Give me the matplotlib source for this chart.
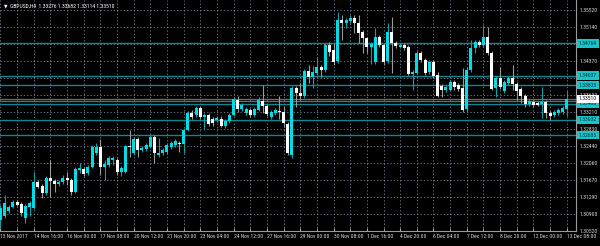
import matplotlib
matplotlib.use('Agg')
import matplotlib.pyplot as plt
from matplotlib import font_manager as fm
import numpy as np

# GBPUSD H4 candles, 13 Nov 2017 08:00 .. 13 Dec 2017 08:00
opens = [
    1.30779, 1.30869, 1.30982, 1.31073, 1.31186, 1.31141, 1.30824, 1.31073, 1.31050, 1.31637,
    1.31547, 1.31389, 1.31728, 1.31660, 1.31592, 1.31637, 1.31728, 1.31682, 1.31411, 1.31908,
    1.31931, 1.31840, 1.31976, 1.32292, 1.32427, 1.31976, 1.32021, 1.32134, 1.32134, 1.31863,
    1.31863, 1.32450, 1.32292, 1.32608, 1.32360, 1.32382, 1.32427, 1.32653, 1.32247, 1.32292,
    1.32315, 1.32427, 1.32473, 1.32518, 1.32495, 1.32811, 1.33195, 1.33150, 1.33308, 1.33104,
    1.33150, 1.33059, 1.33037, 1.33059, 1.32901, 1.33014, 1.33150, 1.33488, 1.33285, 1.33195,
    1.33263, 1.33150, 1.33263, 1.33466, 1.33353, 1.33104, 1.33195, 1.33240, 1.33217, 1.32946,
    1.32247, 1.33759, 1.33646, 1.33579, 1.34143, 1.34008, 1.34098, 1.34233, 1.34166, 1.34730,
    1.34617, 1.34369, 1.35294, 1.35227, 1.35272, 1.35339, 1.35227, 1.35023, 1.34888, 1.34685,
    1.34346, 1.34911, 1.34730, 1.34369, 1.35023, 1.34775, 1.34685, 1.34730, 1.34685, 1.34075,
    1.34098, 1.34549, 1.34391, 1.34120, 1.34346, 1.34053, 1.33804, 1.33714, 1.33714, 1.33895,
    1.33827, 1.33759, 1.33285, 1.34166, 1.34662, 1.34798, 1.34730, 1.34911, 1.34549, 1.33759,
    1.33985, 1.33692, 1.33872, 1.33985, 1.33850, 1.33737, 1.33579, 1.33398, 1.33443, 1.33421,
    1.33398, 1.33443, 1.33195, 1.33150, 1.33195, 1.33217, 1.33276,
]
highs = [
    1.31118, 1.31344, 1.31118, 1.31231, 1.31231, 1.31186, 1.31141, 1.31208, 1.31863, 1.31682,
    1.31592, 1.31773, 1.32134, 1.31705, 1.31682, 1.31795, 1.31863, 1.31728, 1.31976, 1.32066,
    1.31976, 1.32021, 1.32473, 1.32518, 1.32608, 1.32134, 1.32224, 1.32224, 1.32179, 1.31999,
    1.32473, 1.32811, 1.32653, 1.32653, 1.32450, 1.32518, 1.32698, 1.32698, 1.32631, 1.32405,
    1.32518, 1.32563, 1.32608, 1.32563, 1.32856, 1.33240, 1.33263, 1.33353, 1.33353, 1.33195,
    1.33195, 1.33104, 1.33127, 1.33127, 1.33059, 1.33195, 1.33556, 1.33579, 1.33421, 1.33330,
    1.33308, 1.33330, 1.33556, 1.33827, 1.33398, 1.33263, 1.33308, 1.33579, 1.33353, 1.32992,
    1.33804, 1.33804, 1.33872, 1.34188, 1.34278, 1.34256, 1.34459, 1.34278, 1.34775, 1.34798,
    1.34775, 1.35475, 1.35407, 1.35339, 1.35407, 1.35407, 1.35407, 1.35069, 1.34911, 1.34798,
    1.35114, 1.34956, 1.34775, 1.35227, 1.35362, 1.34820, 1.34775, 1.34775, 1.34730, 1.34166,
    1.34595, 1.34595, 1.34436, 1.34391, 1.34391, 1.34120, 1.33850, 1.33827, 1.33940, 1.33940,
    1.33872, 1.34211, 1.34233, 1.34843, 1.34843, 1.34843, 1.35181, 1.35136, 1.34595, 1.34030,
    1.34233, 1.33940, 1.34030, 1.34278, 1.33895, 1.33782, 1.33624, 1.33511, 1.33488, 1.33466,
    1.33782, 1.33488, 1.33240, 1.33263, 1.33308, 1.33353, 1.33682,
]
lows = [
    1.30621, 1.30824, 1.30937, 1.31050, 1.31095, 1.30869, 1.30711, 1.30869, 1.31028, 1.31502,
    1.31276, 1.31344, 1.31299, 1.31411, 1.31547, 1.31592, 1.31570, 1.31344, 1.31389, 1.31840,
    1.31773, 1.31795, 1.31953, 1.32247, 1.31795, 1.31682, 1.31976, 1.32021, 1.31795, 1.31773,
    1.31840, 1.32202, 1.32247, 1.32202, 1.32315, 1.32337, 1.32405, 1.32066, 1.32202, 1.32247,
    1.32269, 1.32382, 1.32427, 1.32315, 1.32292, 1.32788, 1.33059, 1.33104, 1.33059, 1.32811,
    1.32901, 1.32901, 1.32992, 1.32879, 1.32856, 1.32969, 1.33127, 1.33217, 1.33240, 1.33150,
    1.33104, 1.33104, 1.33240, 1.33195, 1.33127, 1.33059, 1.33150, 1.33059, 1.32879, 1.32247,
    1.32179, 1.33330, 1.33488, 1.33533, 1.33872, 1.33759, 1.34053, 1.34008, 1.34120, 1.34482,
    1.34278, 1.34324, 1.34843, 1.35114, 1.35227, 1.35001, 1.34775, 1.34549, 1.34549, 1.34301,
    1.34301, 1.34685, 1.34278, 1.34324, 1.34098, 1.34662, 1.34662, 1.34617, 1.34053, 1.33714,
    1.34075, 1.34346, 1.34053, 1.34075, 1.33985, 1.33556, 1.33556, 1.33669, 1.33692, 1.33714,
    1.33692, 1.33217, 1.33217, 1.34120, 1.34549, 1.34685, 1.34685, 1.34504, 1.33714, 1.33556,
    1.33737, 1.33646, 1.33827, 1.33714, 1.33488, 1.33421, 1.33330, 1.33353, 1.33330, 1.33353,
    1.33082, 1.33082, 1.33037, 1.33104, 1.33150, 1.33172, 1.33114,
]
closes = [
    1.31050, 1.31163, 1.31073, 1.31186, 1.31118, 1.30937, 1.31095, 1.31163, 1.31637, 1.31524,
    1.31389, 1.31728, 1.31660, 1.31592, 1.31637, 1.31728, 1.31682, 1.31411, 1.31931, 1.31953,
    1.31818, 1.31976, 1.32427, 1.32427, 1.31976, 1.32044, 1.32179, 1.32179, 1.31863, 1.31953,
    1.32450, 1.32427, 1.32608, 1.32360, 1.32405, 1.32473, 1.32653, 1.32292, 1.32292, 1.32360,
    1.32473, 1.32518, 1.32563, 1.32495, 1.32811, 1.33195, 1.33104, 1.33308, 1.33104, 1.33150,
    1.32946, 1.32969, 1.33082, 1.32901, 1.33014, 1.33150, 1.33511, 1.33285, 1.33376, 1.33285,
    1.33150, 1.33285, 1.33488, 1.33353, 1.33172, 1.33217, 1.33263, 1.33217, 1.32969, 1.32292,
    1.33759, 1.33646, 1.33579, 1.34143, 1.34008, 1.34120, 1.34233, 1.34166, 1.34730, 1.34572,
    1.34346, 1.35294, 1.35227, 1.35294, 1.35339, 1.35227, 1.35001, 1.34888, 1.34685, 1.34753,
    1.34911, 1.34730, 1.34346, 1.35023, 1.34775, 1.34707, 1.34730, 1.34662, 1.34075, 1.34120,
    1.34549, 1.34391, 1.34098, 1.34346, 1.34030, 1.33579, 1.33714, 1.33782, 1.33895, 1.33782,
    1.33737, 1.33263, 1.34166, 1.34662, 1.34798, 1.34730, 1.34911, 1.34549, 1.33737, 1.33985,
    1.33782, 1.33895, 1.33985, 1.33850, 1.33692, 1.33579, 1.33398, 1.33466, 1.33376, 1.33376,
    1.33443, 1.33195, 1.33127, 1.33217, 1.33263, 1.33308, 1.33510,
]

date_labels = ['13 Nov 2017', '14 Nov 16:00', '16 Nov 00:00', '17 Nov 08:00', '20 Nov 12:00',
               '21 Nov 20:00', '23 Nov 04:00', '24 Nov 12:00', '27 Nov 16:00', '29 Nov 00:00',
               '30 Nov 08:00', '1 Dec 16:00', '4 Dec 20:00', '6 Dec 04:00', '7 Dec 12:00',
               '8 Dec 20:00', '12 Dec 00:00', '13 Dec 08:00']
price_grid = [1.35520, 1.35140, 1.34760, 1.34370, 1.33990, 1.33600, 1.33210, 1.32830,
              1.32440, 1.32060, 1.31670, 1.31290, 1.30900, 1.30520]
level_lines = [1.34764, 1.34037, 1.33823, 1.33400, 1.33032, 1.32685]
bid_lines = [1.33510, 1.33470]
title = 'GBPUSD,H4  1.33276 1.33682 1.33114 1.33510'


def narrow_font():
    # MT4 uses a small narrow font; pick the narrowest sans we can find
    fonts = fm.fontManager.ttflist
    for name in ['Liberation Sans Narrow', 'Roboto Condensed', 'Open Sans Condensed',
                 'Noto Sans Condensed', 'DejaVu Sans Condensed']:
        for f in fonts:
            if f.name == name and f.style == 'normal' and f.weight in (400, 'normal', 'regular'):
                return fm.FontProperties(fname=f.fname)
    for f in fonts:
        if (f.stretch in ('condensed', 'semi-condensed') and f.style == 'normal'
                and f.weight in (400, 'normal', 'regular') and 'Mono' not in f.name
                and 'Serif' not in f.name and 'CJK' not in f.name):
            return fm.FontProperties(fname=f.fname)
    return fm.FontProperties(family=['Liberation Sans', 'DejaVu Sans'])


o = np.array(opens)
h = np.array(highs)
l = np.array(lows)
c = np.array(closes)
x = np.arange(len(o))
up = c >= o

bull, bear = '#00dde6', '#ffffff'
grid_col = '#778899'
text_col = '#d8d8d8'

fig = plt.figure(figsize=(6.0, 2.46), dpi=100, facecolor='black')
ax = fig.add_axes([0, 15 / 246, 576 / 600, 231 / 246], facecolor='black')

# size the font so a date label is ~29 px wide, like the terminal
fp = narrow_font()
renderer = fig.canvas.get_renderer()
probe = fig.text(0, 0, '14 Nov 16:00', fontproperties=fp, size=10)
w = probe.get_window_extent(renderer).width
probe.remove()
fs = min(6.0, 10 * 29 / w)
fp.set_size(fs)

for p in price_grid:
    ax.axhline(p, color=grid_col, lw=0.6, ls=(0, (1.5, 2.5)), zorder=0)
for k in range(0, len(o) + 2, 4):
    ax.axvline(k, color=grid_col, lw=0.6, ls=(0, (1.5, 2.5)), zorder=0)

for p in level_lines:
    ax.axhline(p, color='#0f8790', lw=1.0, zorder=1)
for p in bid_lines:
    ax.axhline(p, color='#6e6e6e', lw=0.9, zorder=1)

# candles
ax.vlines(x, l, h, colors=np.where(up, '#0aa3aa', '#9a9a9a'), lw=0.8, zorder=2)
body = np.maximum(np.abs(c - o), 0.00004)
ax.bar(x, body, bottom=np.minimum(o, c), width=0.72,
       color=np.where(up, bull, bear), edgecolor='none', zorder=3)

ax.set_xlim(-0.1, -0.1 + 576 / 4.164)
ax.set_ylim(1.30531, 1.35746)

# time axis
ax.set_xticks(np.arange(len(date_labels)) * 8)
ax.set_xticklabels(date_labels, ha='left', fontproperties=fp, color=text_col)
ax.set_xticks(np.arange(0, len(o) + 2, 4), minor=True)
ax.tick_params(axis='x', which='both', direction='in', length=2.5, color='#b0b0b0', pad=2.5)

# price axis
ax.yaxis.tick_right()
ax.set_yticks(price_grid)
ax.set_yticklabels(['' if p in (1.34760, 1.33990) else f'{p:.5f}' for p in price_grid],
                   fontproperties=fp, color=text_col)
ax.tick_params(axis='y', length=0, pad=2.5)

for s in ['top', 'left']:
    ax.spines[s].set_visible(False)
for s in ['right', 'bottom']:
    ax.spines[s].set_color('#9a9a9a')
    ax.spines[s].set_linewidth(0.8)

ytr = ax.get_yaxis_transform()
for p in level_lines:
    ax.text(1.005, p, f'{p:.5f}', transform=ytr, ha='left', va='center', fontproperties=fp,
            color='#0c2a30', zorder=6, clip_on=False,
            bbox=dict(boxstyle='square,pad=0.3', fc='#12c6cc', ec='none'))
ax.text(1.005, bid_lines[0], f'{bid_lines[0]:.5f}', transform=ytr, ha='left', va='center',
        fontproperties=fp, color='black', zorder=7, clip_on=False,
        bbox=dict(boxstyle='square,pad=0.3', fc='white', ec='none'))

fig.text(4 / 600, 1 - 6 / 246, '\u25bc', color='white', fontsize=fs * 0.8,
         family='DejaVu Sans', va='center', ha='left')
fig.text(10 / 600, 1 - 6 / 246, title, color='white', fontproperties=fp, va='center', ha='left')

fig.savefig('out.png', dpi=100, facecolor='black')
